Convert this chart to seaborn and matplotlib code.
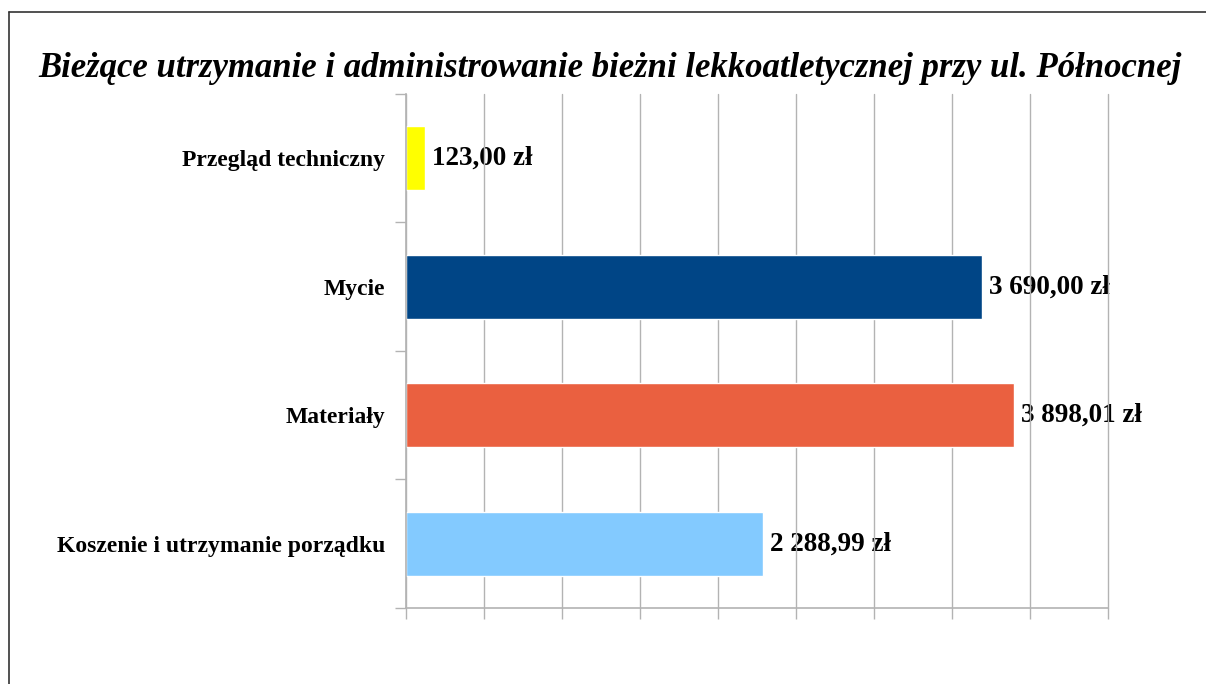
import matplotlib
matplotlib.use("Agg")
import matplotlib.pyplot as plt
import seaborn as sns
import pandas as pd
from matplotlib.lines import Line2D

# data
categories = ['Przegląd techniczny', 'Mycie', 'Materiały', 'Koszenie i utrzymanie porządku']
costs = [123.00, 3690.00, 3898.01, 2288.99]
colors = ['#FFFF00', '#004586', '#EA6040', '#83CAFF']
title = 'Bieżące utrzymanie i administrowanie bieżni lekkoatletycznej przy ul. Północnej'

df = pd.DataFrame({'category': categories, 'cost': costs})

sns.set_style('white')
plt.rcParams['font.family'] = ['Liberation Serif', 'DejaVu Serif']
plt.rcParams['text.color'] = 'black'
plt.rcParams['axes.labelcolor'] = 'black'
plt.rcParams['xtick.color'] = 'black'
plt.rcParams['ytick.color'] = 'black'

fig = plt.figure(figsize=(12.06, 6.84), dpi=100)
ax = fig.add_axes([406 / 1206, 1 - 608 / 684, (1108 - 406) / 1206, (608 - 94) / 684])

sns.barplot(data=df, x='cost', y='category', hue='category', palette=colors,
            orient='h', width=0.5, saturation=1, legend=False, ax=ax)

grid_col = '#b3b3b3'
ax.set_xlim(0, 4500)
ax.set_ylim(3.5, -0.5)
ax.set_xticks(range(0, 4501, 500))
ax.set_xticklabels([])
ax.xaxis.grid(True, color=grid_col, lw=1.0)
for gl in ax.get_xgridlines():
    gl.set_clip_on(False)
ax.set_axisbelow(True)

# y ticks at the band boundaries, labels on minor ticks at the centres
ax.set_yticks([-0.5, 0.5, 1.5, 2.5, 3.5])
ax.set_yticklabels([])
ax.set_yticks(range(len(categories)), minor=True)
ax.set_yticklabels(categories, minor=True, fontsize=17, fontweight='bold', color='black')
ax.tick_params(axis='y', which='major', left=True, length=8, width=1, color=grid_col, direction='out')
ax.tick_params(axis='y', which='minor', left=True, length=0, pad=15)
ax.tick_params(axis='x', which='major', bottom=True, length=8, width=1, color=grid_col, direction='out')
ax.set_xlabel('')
ax.set_ylabel('')

for side in ['top', 'right']:
    ax.spines[side].set_visible(False)
for side in ['left', 'bottom']:
    ax.spines[side].set_color(grid_col)
    ax.spines[side].set_linewidth(1.2)

def fmt(v):
    s = f'{v:,.2f}'.replace(',', ' ').replace('.', ',')
    return s + ' zł'

# value labels sit under the grid lines, as in the original
for i, v in enumerate(costs):
    ax.annotate(fmt(v), xy=(v, i), xytext=(5, 0), textcoords='offset points',
                ha='left', va='center', fontsize=19.5, fontweight='bold',
                color='black', zorder=0.4)

fig.text(610 / 1206, 1 - 77 / 684, title, ha='center', va='baseline',
         fontsize=25, fontweight='bold', fontstyle='italic', color='black')

# outer frame (runs off the right and bottom of the picture)
fig.add_artist(Line2D([8.5 / 1206, 1], [1 - 12 / 684, 1 - 12 / 684], color='#333333', lw=1.2))
fig.add_artist(Line2D([8.5 / 1206, 8.5 / 1206], [1 - 12 / 684, 0], color='#333333', lw=1.2))

fig.savefig('out.png', dpi=100)
